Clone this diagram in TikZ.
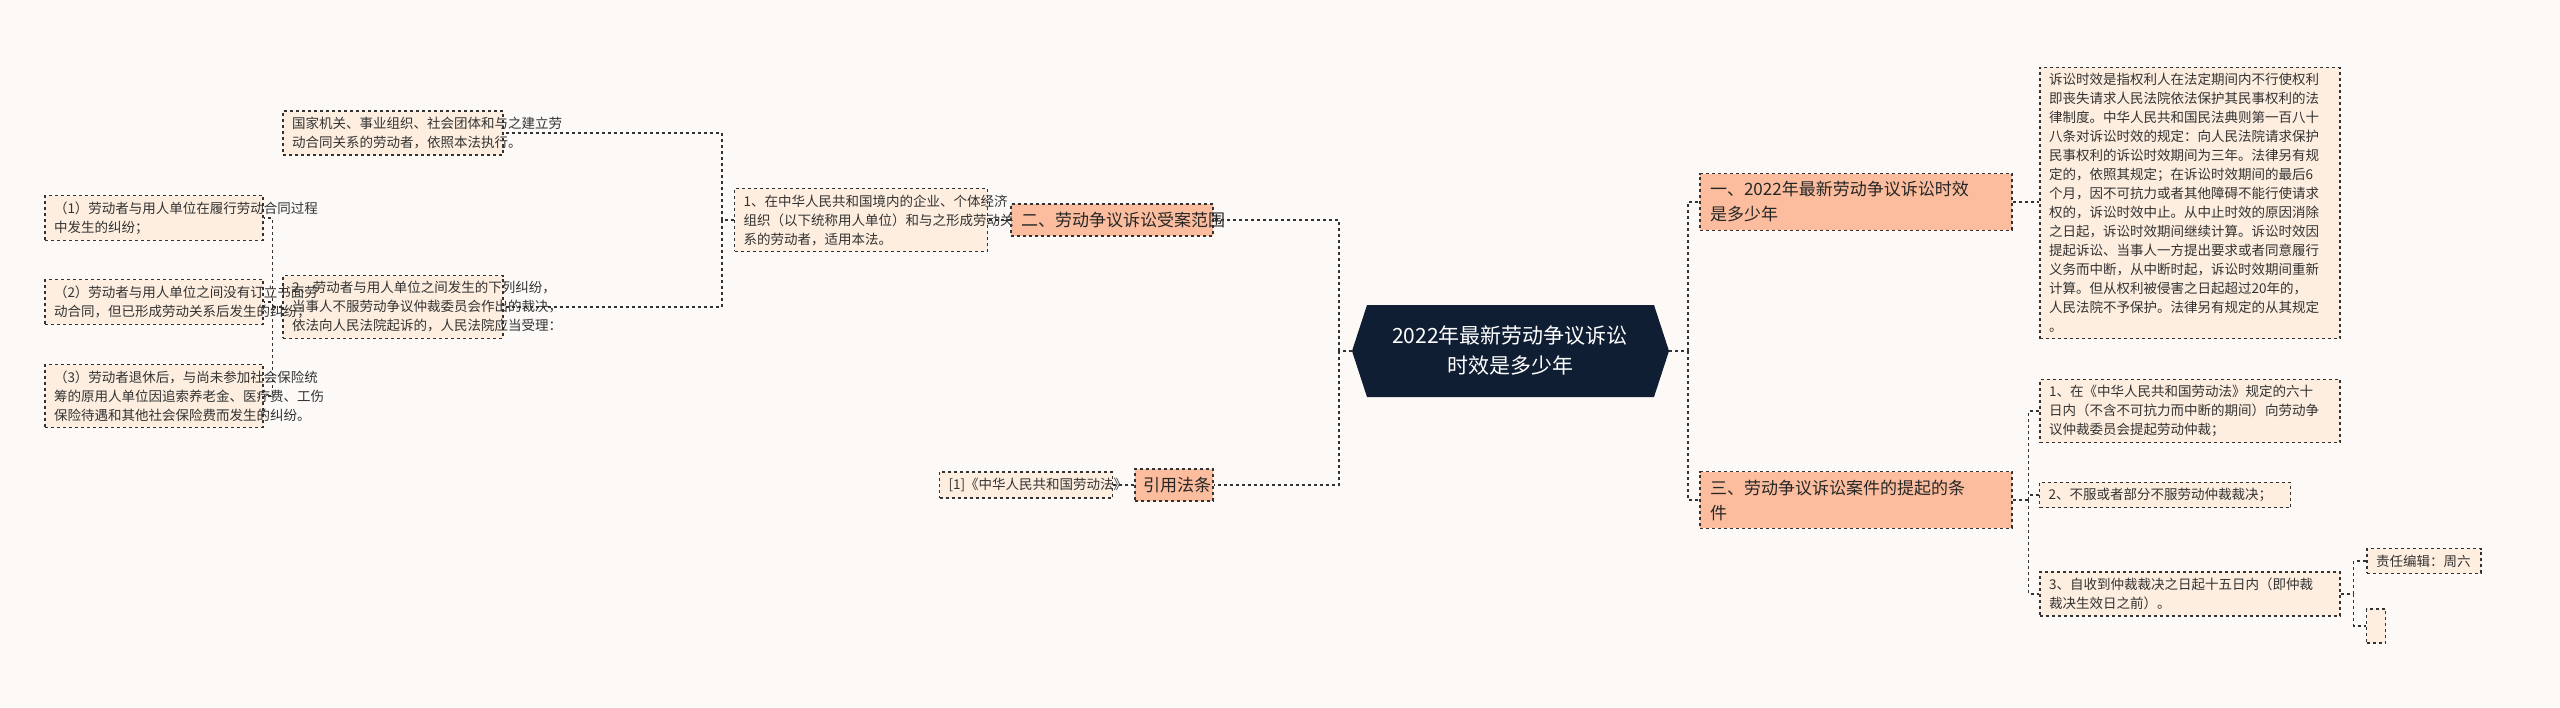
\documentclass[tikz,border=0pt]{standalone}
\usepackage{fontspec}
\setmainfont{Noto Sans CJK SC}
\definecolor{bgc}{HTML}{FDF9F7}
\definecolor{leafc}{HTML}{FDEEDF}
\definecolor{branchc}{HTML}{FBBD9E}
\definecolor{navy}{HTML}{0F1E33}
\definecolor{linec}{HTML}{333333}
\begin{document}
\begin{tikzpicture}[x=1pt,y=-1pt,
  leaf/.style={draw=linec,dashed,line width=1.3pt,fill=leafc,inner xsep=9pt,inner ysep=6pt,align=left,font=\fontsize{13.5}{19}\selectfont,text=black!80},
  branch/.style={draw=linec,dashed,line width=1.3pt,fill=branchc,inner xsep=10pt,inner ysep=8pt,align=left,font=\fontsize{17}{25}\selectfont,text=black!85},
  conn/.style={draw=linec,dashed,line width=1.3pt}]
\fill[bgc] (0,0) rectangle (2560,707);
\useasboundingbox (0,0) rectangle (2560,707);
% center
\fill[navy] (1352,351) -- (1367,305) -- (1654,305) -- (1669,351) -- (1654,397) -- (1367,397) -- cycle;
\node[text=white,align=center,font=\fontsize{21}{30}\selectfont] (c) at (1510,351) {2022年最新劳动争议诉讼\\时效是多少年};
\coordinate (cl) at (1352,351);
\coordinate (cr) at (1669,351);
% right
\node[branch,text width=292pt] (b1) at (1856,202) {一、2022年最新劳动争议诉讼时效\\是多少年};
\node[leaf,text width=282pt] (d1) at (2190,203) {诉讼时效是指权利人在法定期间内不行使权利\\即丧失请求人民法院依法保护其民事权利的法\\律制度。中华人民共和国民法典则第一百八十\\八条对诉讼时效的规定：向人民法院请求保护\\民事权利的诉讼时效期间为三年。法律另有规\\定的，依照其规定；在诉讼时效期间的最后6\\个月，因不可抗力或者其他障碍不能行使请求\\权的，诉讼时效中止。从中止时效的原因消除\\之日起，诉讼时效期间继续计算。诉讼时效因\\提起诉讼、当事人一方提出要求或者同意履行\\义务而中断，从中断时起，诉讼时效期间重新\\计算。但从权利被侵害之日起超过20年的，\\人民法院不予保护。法律另有规定的从其规定\\。};
\node[branch,text width=292pt] (b3) at (1856,500) {三、劳动争议诉讼案件的提起的条\\件};
\node[leaf,text width=282pt] (c1) at (2190,411) {1、在《中华人民共和国劳动法》规定的六十\\日内（不含不可抗力而中断的期间）向劳动争\\议仲裁委员会提起劳动仲裁；};
\node[leaf,text width=233pt] (c2) at (2165,495) {2、不服或者部分不服劳动仲裁裁决；};
\node[leaf,text width=282pt] (c3) at (2190,594) {3、自收到仲裁裁决之日起十五日内（即仲裁\\裁决生效日之前）。};
\node[leaf,text width=96pt] (ed) at (2424,561) {责任编辑：周六};
\node[leaf,minimum width=19pt,minimum height=34pt,inner xsep=0pt] (em) at (2376,626) {};
% left
\node[branch,text width=182pt] (b2) at (1112,220) {二、劳动争议诉讼受案范围};
\node[branch,text width=62pt,inner xsep=8pt] (ref) at (1174,485) {引用法条};
\node[leaf,text width=155pt] (rl) at (1026,485) {[1]《中华人民共和国劳动法》};
\node[leaf,text width=235pt] (l1) at (861,220) {1、在中华人民共和国境内的企业、个体经济\\组织（以下统称用人单位）和与之形成劳动关\\系的劳动者，适用本法。};
\node[leaf,text width=202pt] (gj) at (393,133) {国家机关、事业组织、社会团体和与之建立劳\\动合同关系的劳动者，依照本法执行。};
\node[leaf,text width=202pt] (l2) at (393,307) {2、劳动者与用人单位之间发生的下列纠纷，\\当事人不服劳动争议仲裁委员会作出的裁决，\\依法向人民法院起诉的，人民法院应当受理：};
\node[leaf,text width=200pt] (p1) at (154,218) {（1）劳动者与用人单位在履行劳动合同过程\\中发生的纠纷；};
\node[leaf,text width=200pt] (p2) at (154,302) {（2）劳动者与用人单位之间没有订立书面劳\\动合同，但已形成劳动关系后发生的纠纷；};
\node[leaf,text width=200pt] (p3) at (154,396) {（3）劳动者退休后，与尚未参加社会保险统\\筹的原用人单位因追索养老金、医疗费、工伤\\保险待遇和其他社会保险费而发生的纠纷。};
% connectors
\draw[conn] (cl) -- ++(-13,0) coordinate (sl);
\draw[conn] (sl) |- (b2.east);
\draw[conn] (sl) |- (ref.east);
\draw[conn] (cr) -- ++(19,0) coordinate (sr);
\draw[conn] (sr) |- (b1.west);
\draw[conn] (sr) |- (b3.west);
\draw[conn] (b1.east) -- (d1.west |- b1.east);
\draw[conn] (b3.east) -- ++(16,0) coordinate (s3);
\draw[conn] (s3) |- (c1.west);
\draw[conn] (s3) |- (c2.west);
\draw[conn] (s3) |- (c3.west);
\draw[conn] (c3.east) -- ++(13,0) coordinate (s4);
\draw[conn] (s4) |- (ed.west);
\draw[conn] (s4) |- (em.west);
\draw[conn] (b2.west) -- (l1.east |- b2.west);
\draw[conn] (ref.west) -- (rl.east |- ref.west);
\draw[conn] (l1.west) -- ++(-12,0) coordinate (s5);
\draw[conn] (s5) |- (gj.east);
\draw[conn] (s5) |- (l2.east);
\draw[conn] (l2.west) -- ++(-10,0) coordinate (s6);
\draw[conn] (s6) |- (p1.east);
\draw[conn] (s6) |- (p2.east);
\draw[conn] (s6) |- (p3.east);
\end{tikzpicture}
\end{document}
